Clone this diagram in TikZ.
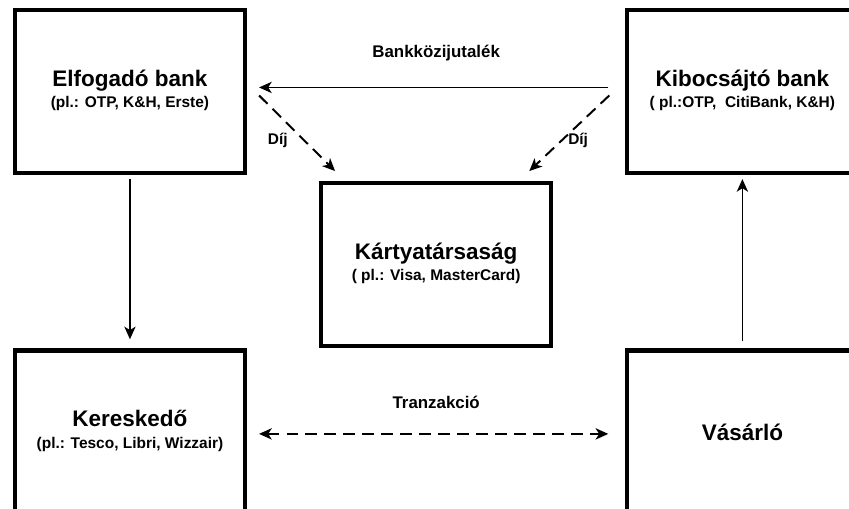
\documentclass[tikz,border=0pt]{standalone}
\usepackage{fontspec}
\setmainfont{Liberation Sans}
\usetikzlibrary{arrows.meta,matrix}

\newcommand{\titlefont}{\fontsize{16}{19}\selectfont\bfseries}
\newcommand{\subfont}{\fontsize{11}{13}\selectfont\bfseries}
\newcommand{\labelfont}{\fontsize{12}{14}\selectfont\bfseries}
\newcommand{\boxlabel}[2]{\begin{tabular}{@{}c@{}}{\titlefont #1}\\[3pt]{\subfont #2}\end{tabular}}

\tikzset{caption/.style={font=\labelfont, inner sep=0pt},
  dashedline/.style={line width=1.4pt, dash pattern=on 8.5pt off 5pt}}

\begin{document}
\begin{tikzpicture}[line width=1.2pt, >={Stealth[length=9pt,width=8pt,inset=2.5pt]}]
\useasboundingbox (0,0) rectangle (21.225,-12.7);
\clip (0,0) rectangle (21.225,-12.7);
\matrix (m)[matrix of nodes, anchor=north west, inner sep=0pt, column sep=1.8cm, row sep=0cm, nodes={draw, line width=3pt, minimum width=5.75cm, minimum height=4.075cm, anchor=center} ] at (0.3,-0.175) {
\boxlabel{Elfogadó bank}{(pl.: OTP, K\&H, Erste)} & & \boxlabel{Kibocsájtó bank}{( pl.:OTP,\ \ CitiBank, K\&H)} \\[0.15cm]
 & \boxlabel{Kártyatársaság}{( pl.: Visa, MasterCard)} & \\
\boxlabel{Kereskedő}{(pl.: Tesco, Libri, Wizzair)} & & |[font=\titlefont]| Vásárló \\
};

% jutalek and dij
\draw[->, shorten <=0.425cm, shorten >=0.3cm] ([yshift=0.1cm]m-1-3.west) -- node[caption, above=0.65cm]{Bankközijutalék} ([yshift=0.1cm]m-1-1.east);
\draw[dashedline, ->] ([xshift=0.3cm,yshift=-0.1cm]m-1-1.east) -- node[caption, font=\subfont, pos=0.6, left=0.4cm]{Díj} ([xshift=0.4cm,yshift=0.25cm]m-2-2.north west);
\draw[dashedline, ->] ([xshift=-0.4cm,yshift=-0.1cm]m-1-3.west) -- node[caption, font=\subfont, pos=0.6, right=0.15cm]{Díj} ([xshift=-0.6cm,yshift=0.25cm]m-2-2.north east);

\draw[->, shorten <=0.1cm, shorten >=0.225cm] (m-1-1.south) -- (m-3-1.north);
\draw[->, shorten <=0.175cm, shorten >=0.1cm] (m-3-3.north) -- (m-1-3.south);
\draw[dashedline, <->, shorten <=0.3cm, shorten >=0.425cm] ([yshift=-0.05cm]m-3-1.east) -- node[caption, above=0.6cm]{Tranzakció} ([yshift=-0.05cm]m-3-3.west);
\end{tikzpicture}
\end{document}
